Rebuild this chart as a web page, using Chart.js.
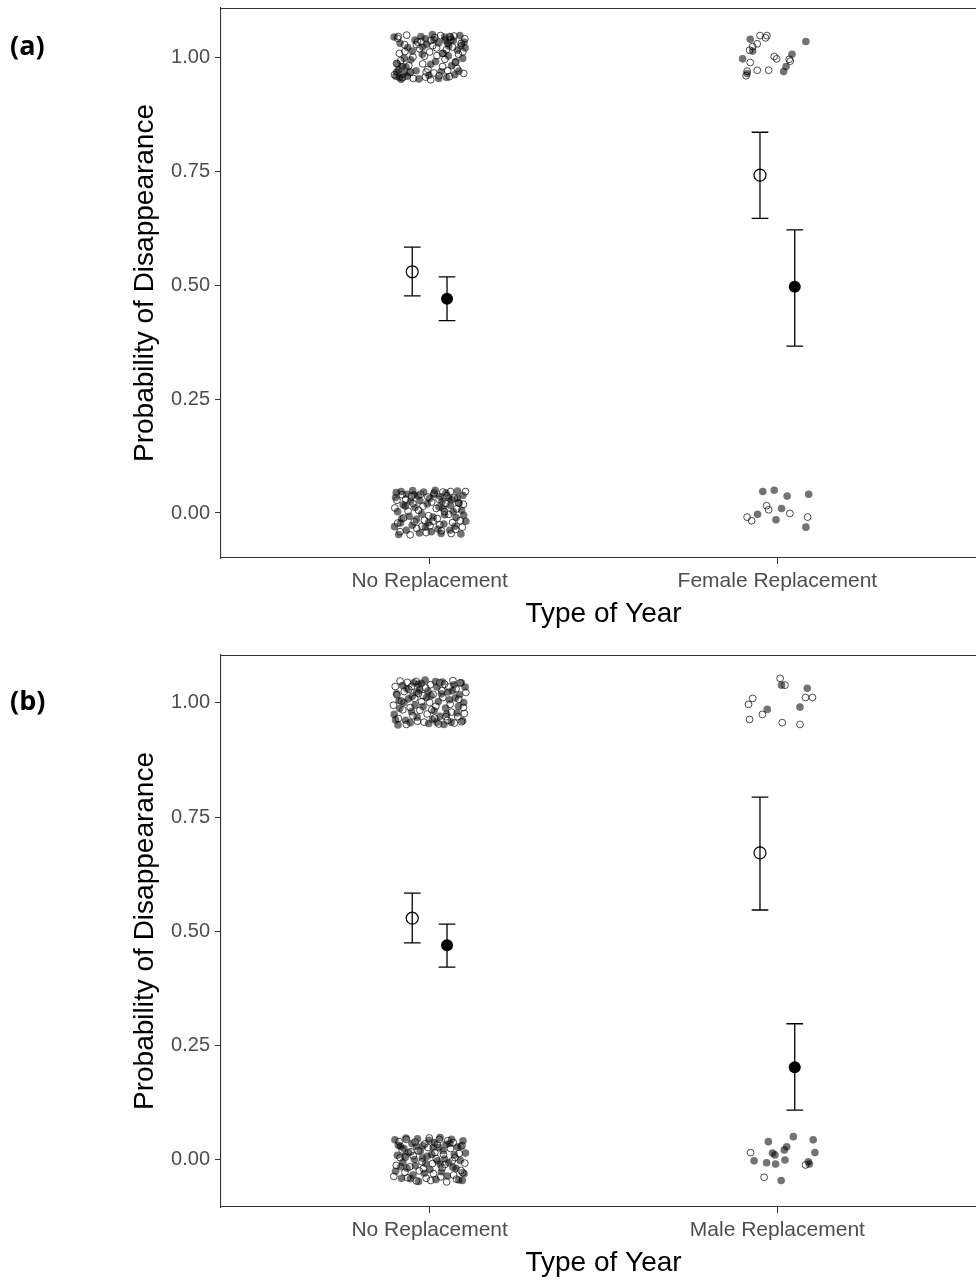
<!DOCTYPE html>
<html>
<head>
<meta charset="utf-8">
<script src="https://cdn.jsdelivr.net/npm/chart.js@4.4.1/dist/chart.umd.min.js"></script>
<style>
  body { margin: 0; background: #fff; }
  #wrap { position: relative; width: 976px; height: 1280px; overflow: hidden; }
  .panel { position: absolute; left: 0; }
  .tag { position: absolute; left: 10px; font: bold 27px "Open Sans", sans-serif; color: #000; line-height: 34px; z-index: 1; }
</style>
</head>
<body>
<div id="wrap">
  <div class="tag" style="top: 28px;">(a)</div>
  <div class="tag" style="top: 683px;">(b)</div>
  <canvas id="chartA" class="panel" style="top: 0px;" width="986" height="640"></canvas>
  <canvas id="chartB" class="panel" style="top: 640px;" width="986" height="640"></canvas>
</div>
<script>
// categories and tick labels
const categoriesA = ['No Replacement', 'Female Replacement'];
const categoriesB = ['No Replacement', 'Male Replacement'];
const yTickValues = [0, 0.25, 0.5, 0.75, 1];

// estimated probabilities with confidence limits (open = first group, filled = second)
const meanOpenA = [0.529, 0.741];
const lowOpenA = [0.476, 0.646];
const highOpenA = [0.583, 0.835];
const meanFilledA = [0.470, 0.496];
const lowFilledA = [0.422, 0.366];
const highFilledA = [0.518, 0.621];

const meanOpenB = [0.529, 0.672];
const lowOpenB = [0.475, 0.547];
const highOpenB = [0.584, 0.794];
const meanFilledB = [0.470, 0.203];
const lowFilledB = [0.422, 0.109];
const highFilledB = [0.516, 0.298];

// raw observations (0 / 1), jittered
const noRepOpenTopA = [[0.908,1.041],[0.929,1.012],[0.945,0.967],[0.917,0.992],[0.962,1.027],[0.988,0.956],[1.004,1.036],[1.021,1.003],[1.037,0.979],[1.058,1.045],[1.074,0.988],[1.091,1.030],[0.899,0.961],[0.934,1.048],[0.971,1.018],[0.995,0.973],[1.015,1.043],[1.044,0.995],[1.066,1.022],[1.098,0.964],[0.913,1.008],[0.953,0.953],[0.980,0.985],[1.009,1.025],[1.031,1.047],[1.052,0.970],[1.083,1.006],[1.101,1.040],[0.940,0.981],[0.965,1.033],[1.000,1.011],[1.027,0.959],[1.061,1.038],[1.079,0.975],[0.905,0.986],[0.985,1.002],[1.012,0.965],[1.048,1.016],[1.070,1.046],[0.922,0.955],[0.952,1.000],[0.975,1.034],[1.020,1.020],[1.037,1.008],[0.928,1.027],[1.095,1.011],[1.057,0.957],[0.990,0.967],[0.910,1.045],[1.003,0.950]];
const noRepFilledTopA = [[0.903,0.958],[0.911,0.972],[0.924,0.963],[0.907,0.985],[0.932,0.978],[0.918,0.951],[0.946,0.994],[0.958,1.037],[0.975,1.045],[0.992,1.028],[1.008,1.049],[1.026,1.031],[1.043,1.044],[1.055,1.024],[1.068,1.036],[1.087,1.047],[1.102,1.020],[1.095,0.997],[1.072,0.961],[1.049,0.955],[1.033,0.968],[1.017,0.990],[0.998,0.960],[0.979,1.006],[0.961,0.970],[0.937,1.021],[0.915,1.030],[0.898,1.044],[1.040,1.008],[1.063,0.981],[1.084,0.969],[1.026,0.953],[0.950,1.013],[0.969,0.952],[1.003,0.984],[1.054,1.002],[1.099,1.033],[0.927,0.997],[1.080,1.015],[0.988,1.040],[0.905,0.967],[0.913,0.955],[0.921,0.979],[0.935,0.958],[1.045,1.037],[1.060,1.043],[1.052,1.030],[1.090,1.025],[0.980,1.022],[1.012,1.038],[0.942,0.966],[1.075,0.990]];
const noRepOpenBottomA = [[0.906,0.028],[0.925,-0.011],[0.948,0.037],[0.963,-0.034],[0.981,0.015],[0.997,-0.006],[1.013,0.044],[1.029,-0.026],[1.046,0.021],[1.062,-0.045],[1.078,0.009],[1.094,-0.031],[0.915,-0.041],[0.938,0.004],[0.956,-0.019],[0.974,0.041],[0.990,-0.043],[1.006,0.024],[1.022,-0.012],[1.038,0.046],[1.055,-0.003],[1.071,0.033],[1.088,-0.017],[1.103,0.047],[0.900,0.011],[0.944,-0.048],[0.968,0.006],[1.001,-0.028],[1.019,0.010],[1.034,-0.039],[1.050,0.038],[1.066,-0.021],[1.097,0.019],[0.931,0.030],[0.985,-0.016],[1.075,-0.036],[0.921,0.040],[0.952,0.021],[0.978,-0.029],[1.010,-0.018],[1.043,0.003],[1.060,0.047],[1.083,0.022],[0.908,-0.022],[0.995,0.035],[1.027,0.030]];
const noRepFilledBottomA = [[0.902,0.034],[0.918,0.047],[0.934,0.041],[0.951,0.049],[0.967,0.038],[0.983,0.046],[1.000,0.032],[1.016,0.050],[1.031,0.036],[1.047,0.044],[1.064,0.029],[1.080,0.048],[1.096,0.039],[0.908,0.003],[0.924,0.018],[0.941,-0.007],[0.958,0.012],[0.977,-0.002],[0.993,0.020],[1.010,-0.009],[1.027,0.013],[1.043,-0.004],[1.059,0.017],[1.076,-0.010],[1.092,0.006],[0.899,-0.030],[0.916,-0.022],[0.933,-0.038],[0.950,-0.027],[0.971,-0.044],[0.988,-0.031],[1.005,-0.041],[1.024,-0.035],[1.041,-0.024],[1.058,-0.038],[1.073,-0.029],[1.090,-0.046],[1.104,-0.018],[0.911,-0.047],[0.945,0.026],[0.962,-0.014],[1.036,0.025],[1.068,0.003],[1.085,0.022],[0.904,0.045],[0.930,0.015],[0.955,0.040],[0.972,0.027],[1.012,0.041],[1.039,0.010],[1.055,0.033],[1.080,0.033],[0.920,-0.012],[0.997,-0.021],[1.033,-0.045],[1.098,-0.005]];
const femaleOpenA = [[1.950,1.047],[1.970,1.047],[1.966,1.042],[1.942,1.029],[1.929,1.023],[1.920,1.015],[1.922,0.988],[1.913,0.969],[1.910,0.959],[1.942,0.971],[1.975,0.971],[1.991,1.001],[1.998,0.996],[2.034,0.995],[2.037,0.991],[1.969,0.016],[1.975,0.007],[1.913,-0.009],[1.926,-0.017],[2.036,-0.001],[2.087,-0.009]];
const femaleFilledA = [[1.922,1.039],[1.929,1.013],[1.900,0.996],[1.913,0.964],[2.042,1.006],[2.025,0.979],[2.018,0.968],[2.082,1.034],[1.958,0.047],[1.991,0.050],[2.028,0.037],[2.090,0.041],[2.012,0.010],[1.943,-0.003],[1.996,-0.015],[2.082,-0.031]];

const noRepOpenTopB = [[0.901,1.036],[0.919,1.004],[0.936,1.045],[0.952,0.972],[0.968,1.021],[0.984,0.958],[1.002,1.040],[1.018,0.993],[1.035,1.027],[1.051,0.962],[1.067,1.049],[1.084,1.008],[1.100,0.977],[0.910,0.966],[0.927,1.025],[0.944,0.990],[0.961,1.047],[0.977,1.003],[0.993,0.976],[1.010,1.019],[1.026,0.954],[1.043,1.041],[1.059,0.997],[1.076,1.031],[1.092,0.959],[0.896,0.995],[0.933,0.953],[0.957,1.010],[0.989,1.033],[1.014,0.967],[1.038,1.012],[1.063,0.980],[1.088,1.044],[1.104,1.023],[0.915,1.048],[0.972,0.984],[1.000,1.001],[1.047,0.970],[1.071,0.956],[0.940,1.030],[0.923,0.985],[0.948,1.036],[0.981,1.016],[1.006,0.985],[1.029,1.044],[1.055,1.035],[1.081,0.970],[1.097,0.990],[0.906,1.018],[0.965,0.960]];
const noRepFilledTopB = [[0.905,1.020],[0.922,1.038],[0.939,1.009],[0.955,1.044],[0.971,1.029],[0.987,1.050],[1.004,1.016],[1.021,1.035],[1.037,1.046],[1.053,1.024],[1.070,1.040],[1.086,1.018],[1.102,1.035],[0.898,0.975],[0.914,0.988],[0.931,0.962],[0.948,0.981],[0.964,0.969],[0.981,0.992],[0.997,0.955],[1.013,0.983],[1.030,0.971],[1.046,0.989],[1.062,0.958],[1.079,0.978],[1.095,0.961],[0.926,1.001],[0.958,0.995],[0.991,1.012],[1.025,1.003],[1.057,1.007],[1.083,0.993],[0.909,0.952],[0.944,0.957],[0.976,1.043],[1.008,0.964],[1.041,0.953],[1.066,1.027],[1.098,1.001],[0.963,1.024],[0.912,1.005],[0.935,1.031],[0.950,1.015],[0.968,1.041],[0.995,1.026],[1.017,1.047],[1.034,1.020],[1.074,1.011],[1.091,1.044],[0.902,0.963],[1.049,0.976],[1.021,0.958]];
const noRepOpenBottomB = [[0.904,-0.012],[0.921,0.022],[0.937,-0.039],[0.953,0.009],[0.970,-0.024],[0.986,0.035],[1.003,-0.045],[1.019,0.003],[1.036,-0.017],[1.052,0.042],[1.069,-0.033],[1.085,0.014],[1.101,-0.007],[0.912,0.040],[0.929,-0.027],[0.946,0.018],[0.962,-0.046],[0.978,-0.004],[0.995,0.027],[1.011,-0.030],[1.028,0.045],[1.044,-0.010],[1.060,0.025],[1.077,-0.042],[1.093,0.031],[0.897,-0.036],[0.958,0.039],[0.982,-0.019],[1.015,0.016],[1.049,-0.048],[1.073,0.005],[1.090,-0.023],[0.930,0.006],[1.032,-0.037],[1.065,-0.002],[0.999,0.048],[0.915,0.005],[0.943,-0.015],[0.967,0.020],[0.990,-0.040],[1.022,0.034],[1.040,0.012],[1.068,0.038],[1.095,-0.028],[1.008,-0.008],[0.933,0.045]];
const noRepFilledBottomB = [[0.900,0.044],[0.916,0.030],[0.932,0.048],[0.949,0.036],[0.965,0.046],[0.981,0.031],[0.998,0.043],[1.014,0.038],[1.030,0.049],[1.047,0.034],[1.063,0.045],[1.080,0.028],[1.096,0.042],[0.907,0.010],[0.923,-0.005],[0.940,0.016],[0.956,0.001],[0.973,0.019],[0.989,-0.008],[1.006,0.012],[1.022,-0.002],[1.039,0.020],[1.055,-0.006],[1.071,0.011],[1.088,-0.001],[1.103,0.015],[0.902,-0.025],[0.919,-0.040],[0.935,-0.018],[0.952,-0.033],[0.968,-0.047],[0.985,-0.029],[1.001,-0.021],[1.018,-0.043],[1.034,-0.026],[1.051,-0.035],[1.067,-0.016],[1.084,-0.044],[1.099,-0.030],[0.926,0.025],[0.959,-0.013],[0.993,0.008],[1.027,0.027],[1.076,-0.019],[0.910,0.032],[0.928,0.008],[0.945,-0.041],[0.962,0.030],[0.979,0.004],[1.010,0.027],[1.043,0.002],[1.058,0.036],[1.090,0.030],[0.917,-0.015],[1.031,-0.010],[1.094,-0.045]];
const maleOpenB = [[2.008,1.054],[2.022,1.039],[2.081,1.012],[2.101,1.012],[1.929,1.010],[1.917,0.997],[1.957,0.975],[1.920,0.964],[2.014,0.957],[2.065,0.953],[1.923,0.016],[2.081,-0.011],[1.962,-0.038]];
const maleFilledB = [[2.012,1.039],[2.086,1.032],[1.971,0.986],[2.065,0.991],[1.974,0.040],[2.046,0.051],[2.103,0.044],[1.986,0.015],[1.993,0.011],[2.027,0.029],[2.020,0.022],[2.108,0.016],[1.933,-0.002],[1.969,-0.006],[1.995,-0.009],[2.022,0.000],[2.089,-0.004],[2.092,-0.009],[2.011,-0.045]];

const DODGE = 0.05;
const FONT = '"Liberation Sans", Arial, sans-serif';

function toXY(pairs) {
    return pairs.map(p => ({ x: p[0], y: p[1] }));
}

// error bars drawn through the chart's own scales
const errorBarPlugin = {
    id: 'errorBars',
    beforeDatasetsDraw(chart) {
        const bars = chart.config.options.plugins.errorBars.bars;
        const xs = chart.scales.x, ys = chart.scales.y;
        const ctx = chart.ctx;
        ctx.save();
        ctx.strokeStyle = '#000';
        ctx.lineWidth = 1.3;
        bars.forEach(b => {
            const px = xs.getPixelForValue(b.x);
            const half = xs.getPixelForValue(b.x + 0.024) - px;
            const top = ys.getPixelForValue(b.high);
            const bot = ys.getPixelForValue(b.low);
            ctx.beginPath();
            ctx.moveTo(px, top); ctx.lineTo(px, bot);
            ctx.moveTo(px - half, top); ctx.lineTo(px + half, top);
            ctx.moveTo(px - half, bot); ctx.lineTo(px + half, bot);
            ctx.stroke();
        });
        ctx.restore();
    }
};

// top edge of the panel border
const frameTopPlugin = {
    id: 'frameTop',
    afterDraw(chart) {
        const { ctx, chartArea } = chart;
        ctx.save();
        ctx.strokeStyle = '#333';
        ctx.lineWidth = 1.1;
        ctx.beginPath();
        ctx.moveTo(chartArea.left, chartArea.top + 0.5);
        ctx.lineTo(chartArea.right, chartArea.top + 0.5);
        ctx.stroke();
        ctx.restore();
    }
};

function makePanel(id, cfg) {
    const bars = [];
    [0, 1].forEach(i => {
        bars.push({ x: i + 1 - DODGE, low: cfg.lowOpen[i], high: cfg.highOpen[i] });
        bars.push({ x: i + 1 + DODGE, low: cfg.lowFilled[i], high: cfg.highFilled[i] });
    });

    return new Chart(document.getElementById(id), {
        type: 'scatter',
        data: {
            datasets: [
                { label: 'mean open', data: cfg.meanOpen.map((v, i) => ({ x: i + 1 - DODGE, y: v })),
                  pointRadius: 6, pointBackgroundColor: 'rgba(0,0,0,0)', pointBorderColor: '#000', pointBorderWidth: 1.2, order: 0 },
                { label: 'mean filled', data: cfg.meanFilled.map((v, i) => ({ x: i + 1 + DODGE, y: v })),
                  pointRadius: 6, pointBackgroundColor: '#000', pointBorderColor: '#000', pointBorderWidth: 0, order: 0 },
                { label: 'raw open', data: toXY(cfg.rawOpen),
                  pointRadius: 3.4, pointBackgroundColor: 'rgba(0,0,0,0)', pointBorderColor: 'rgba(0,0,0,0.7)', pointBorderWidth: 1, order: 1 },
                { label: 'raw filled', data: toXY(cfg.rawFilled),
                  pointRadius: 3.8, pointBackgroundColor: 'rgba(0,0,0,0.55)', pointBorderWidth: 0, order: 2 }
            ]
        },
        options: {
            responsive: false,
            animation: false,
            layout: { autoPadding: false, padding: { top: cfg.padTop, right: 0, left: 0, bottom: 0 } },
            plugins: {
                legend: { display: false },
                tooltip: { enabled: false },
                errorBars: { bars: bars }
            },
            scales: {
                x: {
                    type: 'linear', min: 0.4, max: 2.6,
                    afterFit: s => { s.height = cfg.xAxisHeight; s.paddingLeft = 0; s.paddingRight = 0; },
                    afterBuildTicks: s => { s.ticks = [{ value: 1 }, { value: 2 }]; },
                    ticks: { callback: v => cfg.categories[v - 1], color: '#4d4d4d', font: { family: FONT, size: 21 }, padding: 5, maxRotation: 0, autoSkip: false },
                    grid: { drawOnChartArea: false, drawTicks: true, tickLength: 6, color: '#333' },
                    border: { display: true, color: '#333', width: 1.1 },
                    title: { display: true, text: 'Type of Year', color: '#000', font: { family: FONT, size: 28 }, padding: { bottom: cfg.xTitlePad, top: 0 } }
                },
                y: {
                    min: cfg.yMin, max: cfg.yMax,
                    afterFit: s => { s.width = 221; s.paddingTop = 0; s.paddingBottom = 0; },
                    afterBuildTicks: s => { s.ticks = yTickValues.map(v => ({ value: v })); },
                    ticks: { callback: v => v.toFixed(2), color: '#4d4d4d', font: { family: FONT, size: 20 }, padding: 5 },
                    grid: { drawOnChartArea: false, drawTicks: true, tickLength: 6, color: '#333' },
                    border: { display: true, color: '#333', width: 1.1 },
                    title: { display: true, text: 'Probability of Disappearance', color: '#000', font: { family: FONT, size: 28 }, padding: { top: 128, bottom: 0 } }
                }
            }
        },
        plugins: [errorBarPlugin, frameTopPlugin]
    });
}

makePanel('chartA', {
    categories: categoriesA,
    meanOpen: meanOpenA, lowOpen: lowOpenA, highOpen: highOpenA,
    meanFilled: meanFilledA, lowFilled: lowFilledA, highFilled: highFilledA,
    rawOpen: noRepOpenTopA.concat(noRepOpenBottomA, femaleOpenA),
    rawFilled: noRepFilledTopA.concat(noRepFilledBottomA, femaleFilledA),
    yMin: -0.0987, yMax: 1.1075,
    padTop: 8, xAxisHeight: 82, xTitlePad: 9
});

makePanel('chartB', {
    categories: categoriesB,
    meanOpen: meanOpenB, lowOpen: lowOpenB, highOpen: highOpenB,
    meanFilled: meanFilledB, lowFilled: lowFilledB, highFilled: highFilledB,
    rawOpen: noRepOpenTopB.concat(noRepOpenBottomB, maleOpenB),
    rawFilled: noRepFilledTopB.concat(noRepFilledBottomB, maleFilledB),
    yMin: -0.103, yMax: 1.105,
    padTop: 15, xAxisHeight: 73, xTitlePad: 0
});
</script>
</body>
</html>
